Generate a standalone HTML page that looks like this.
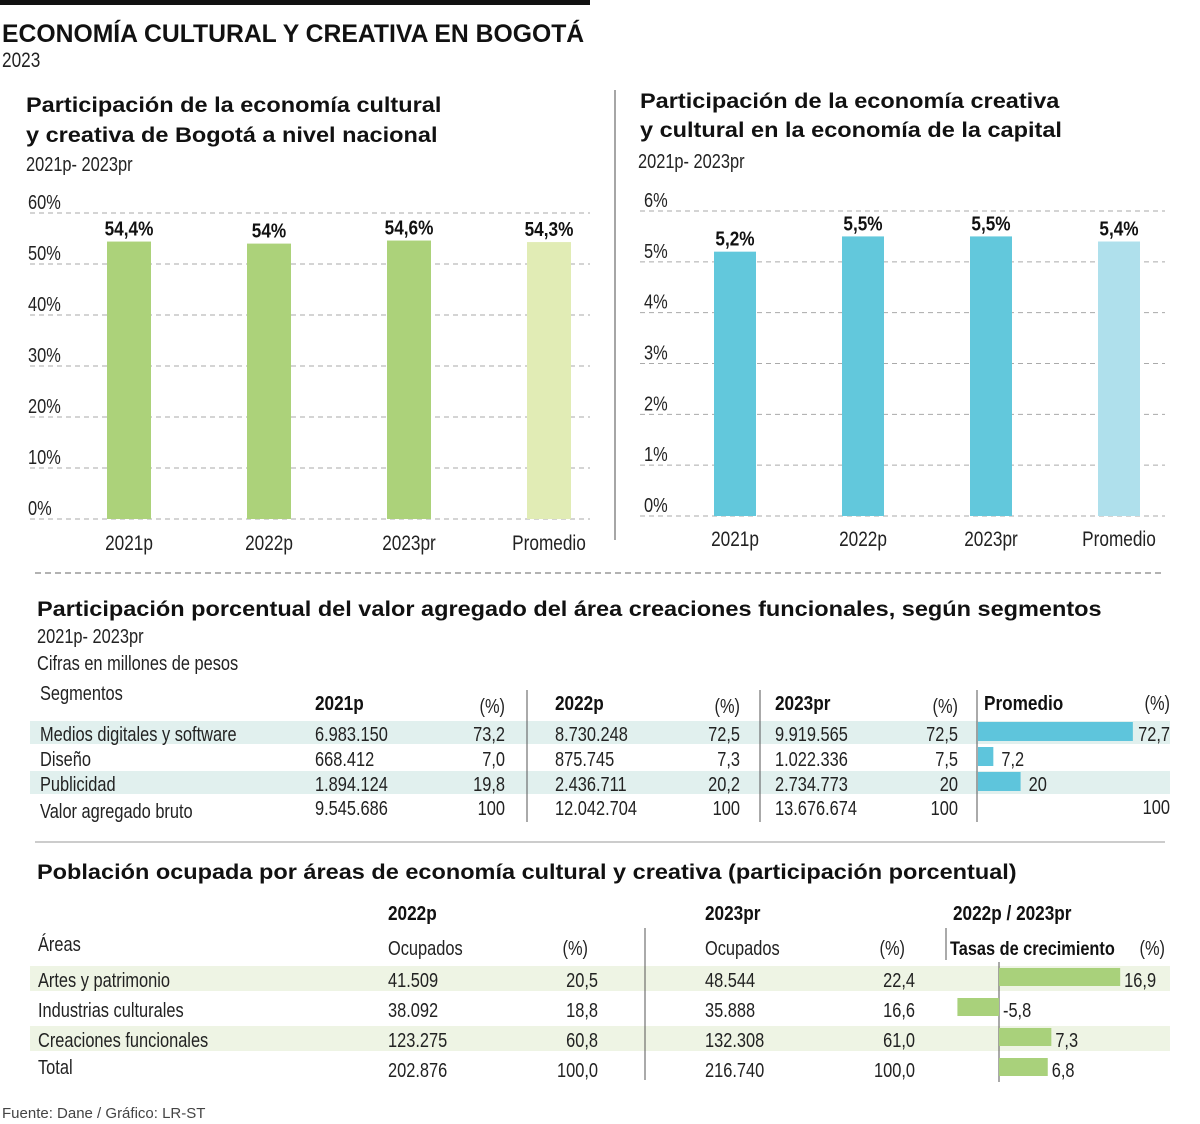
<!DOCTYPE html>
<html><head><meta charset="utf-8">
<style>
html,body{margin:0;padding:0;background:#fff;}
svg{display:block;font-family:"Liberation Sans",sans-serif;}
.b,.bt,.bm{font-family:"Liberation Sans",sans-serif;font-weight:bold;}
.n,.f{font-family:"Liberation Sans",sans-serif;fill:#222;}
</style></head>
<body>
<svg id="s" width="1200" height="1124" viewBox="0 0 1200 1124">
<rect x="0" y="0" width="590" height="5" fill="#111"/>
<text x="2" y="42" class="bm" font-size="25" fill="#111">ECONOMÍA CULTURAL Y CREATIVA EN BOGOTÁ</text>
<text x="2" y="67" class="n" font-size="21">2023</text>

<text x="26" y="112" class="bt" font-size="21" fill="#111">Participación de la economía cultural</text>
<text x="26" y="142" class="bt" font-size="21" fill="#111">y creativa de Bogotá a nivel nacional</text>
<text x="26" y="171" class="n" font-size="20">2021p- 2023pr</text>
<line x1="615" y1="90" x2="615" y2="540" stroke="#888" stroke-width="1.5"/>
<text x="640" y="108" class="bt" font-size="21" fill="#111">Participación de la economía creativa</text>
<text x="640" y="137" class="bt" font-size="21" fill="#111">y cultural en la economía de la capital</text>
<text x="638" y="168" class="n" font-size="20">2021p- 2023pr</text>

<line x1="35" y1="573" x2="1165" y2="573" stroke="#666" stroke-dasharray="6,4"/>
<text x="37" y="616" class="bt" font-size="21" fill="#111">Participación porcentual del valor agregado del área creaciones funcionales, según segmentos</text>
<text x="37" y="643" class="n" font-size="20">2021p- 2023pr</text>
<text x="37" y="670" class="n" font-size="20">Cifras en millones de pesos</text>
<line x1="35" y1="842" x2="1165" y2="842" stroke="#999" stroke-width="1"/>
<text x="37" y="879" class="bt" font-size="21" fill="#111">Población ocupada por áreas de economía cultural y creativa (participación porcentual)</text>
<text x="2" y="1118" class="f" font-size="15" style="fill:#444">Fuente: Dane / Gráfico: LR-ST</text>
<g id="dyn"></g>
</svg>
<script>
// Chart 1 data
const c1Categories = ["2021p","2022p","2023pr","Promedio"];
const c1Values = [54.4, 54.0, 54.6, 54.3];
const c1Labels = ["54,4%","54%","54,6%","54,3%"];
const c1Ticks = [0,10,20,30,40,50,60];
// Chart 2 data
const c2Categories = ["2021p","2022p","2023pr","Promedio"];
const c2Values = [5.2, 5.5, 5.5, 5.4];
const c2Labels = ["5,2%","5,5%","5,5%","5,4%"];
const c2Ticks = [0,1,2,3,4,5,6];
// Table 1 data
const t1Segments = ["Medios digitales y software","Diseño","Publicidad","Valor agregado bruto"];
const t1v2021 = ["6.983.150","668.412","1.894.124","9.545.686"];
const t1p2021 = ["73,2","7,0","19,8","100"];
const t1v2022 = ["8.730.248","875.745","2.436.711","12.042.704"];
const t1p2022 = ["72,5","7,3","20,2","100"];
const t1v2023 = ["9.919.565","1.022.336","2.734.773","13.676.674"];
const t1p2023 = ["72,5","7,5","20","100"];
const t1Avg = [72.7, 7.2, 20];
const t1AvgLabels = ["72,7","7,2","20","100"];
// Table 2 data
const t2Areas = ["Artes y patrimonio","Industrias culturales","Creaciones funcionales","Total"];
const t2o2022 = ["41.509","38.092","123.275","202.876"];
const t2p2022 = ["20,5","18,8","60,8","100,0"];
const t2o2023 = ["48.544","35.888","132.308","216.740"];
const t2p2023 = ["22,4","16,6","61,0","100,0"];
const t2Growth = [16.9, -5.8, 7.3, 6.8];
const t2GrowthLabels = ["16,9","-5,8","7,3","6,8"];

const NS="http://www.w3.org/2000/svg";
const g=document.getElementById('dyn');
function mk(tag,attrs){const e=document.createElementNS(NS,tag);for(const k in attrs)e.setAttribute(k,attrs[k]);g.appendChild(e);return e;}
function txt(x,y,s,size,anchor,bold){const e=mk('text',{x:x,y:y,'font-size':size,'text-anchor':anchor||'start',class:bold?'b':'n',fill:'#111'});e.textContent=s;return e;}

function barChart(cats,vals,labels,ticks,o){
  const y=v=>o.y0-(v/ticks[ticks.length-1])*(o.y0-o.yTop);
  const xc=i=>o.x0+i*o.step;
  ticks.forEach((t,i)=>{
    const l=mk('line',{x1:o.gx0,x2:o.gx1,y1:y(t),y2:y(t),stroke:'#aaa','stroke-dasharray':'5,4'});
    
    
    const tx=txt(o.lx,y(t)-4,t+'%',20,'start',false);
    
    
  });
  cats.forEach((c,i)=>{
    const cx=xc(i);
    const r=mk('rect',{x:cx-o.w/2,y:y(vals[i]),width:o.w,height:o.y0-y(vals[i]),fill:i==3?o.c2:o.c1});
    
    
    const v=txt(cx,y(vals[i])-6,labels[i],20,'middle',true);
    
    
    const xl=txt(cx,o.xly,c,21,'middle',false);
    
    
  });
}
barChart(c1Categories,c1Values,c1Labels,c1Ticks,{y0:519,yTop:213,gx0:30,gx1:590,lx:28,x0:129,step:140,w:44,c1:'#acd27a',c2:'#e1ecb5',xly:550});
barChart(c2Categories,c2Values,c2Labels,c2Ticks,{y0:516,yTop:211,gx0:640,gx1:1165,lx:644,x0:735,step:128,w:42,c1:'#62c8dc',c2:'#afe0ec',xly:546});

// Table 1
[0,2].forEach(i=>{const r=mk('rect',{x:30,y:721+i*25,width:1140,height:23,fill:'#e1f0ee'});
  
  
  g.insertBefore(r,g.firstChild);});
let h=txt(40,700,'Segmentos',20,'start',false);


[[315,'2021p',505],[555,'2022p',740],[775,'2023pr',958]].forEach(a=>{
  const e=txt(a[0],710,a[1],20,'start',true);
  
  
  const p=txt(a[2],713,'(%)',20,'end',false);
  
  
});
h=txt(984,710,'Promedio',20,'start',true);


h=txt(1170,710,'(%)',20,'end',false);


[527,760,977].forEach(x=>{const l=mk('line',{x1:x,x2:x,y1:690,y2:822,stroke:'#555'});
  
  });
const cols=[[t1v2021,315,'start'],[t1p2021,505,'end'],[t1v2022,555,'start'],[t1p2022,740,'end'],[t1v2023,775,'start'],[t1p2023,958,'end']];
t1Segments.forEach((s,i)=>{
  const yb=741+i*25+(i==3?2:0);
  const e=txt(40,yb,s,20,'start',false);
  
  
  cols.forEach(c=>{const v=txt(c[1],yb-(i==3?3:0),c[0][i],20,c[2],false);
    
    });
  if(i<3){
    const w=t1Avg[i]*2.13;
    const r=mk('rect',{x:978,y:yb-19,width:w,height:19,fill:'#5ec5dc'});
    
    
    const lx=i==0?1170:978+w+8;
    const l=txt(lx,yb,t1AvgLabels[i],20,i==0?'end':'start',false);
    
    
  } else {
    const l=txt(1170,yb-4,t1AvgLabels[i],20,'end',false);
    
    
  }
});

// Table 2
[0,2].forEach(i=>{const r=mk('rect',{x:30,y:966+i*30,width:1140,height:25,fill:'#eef4e4'});
  
  
  g.insertBefore(r,g.firstChild);});
[[388,'2022p'],[705,'2023pr'],[953,'2022p / 2023pr']].forEach(a=>{
  const e=txt(a[0],920,a[1],20,'start',true);
  
  });
h=txt(38,951,'Áreas',20,'start',false);


[[388,598],[705,915]].forEach(a=>{
  const e=txt(a[0],955,'Ocupados',20,'start',false);
  
  
  const p=txt(a[1]-10,955,'(%)',20,'end',false);
  
  });
h=txt(950,955,'Tasas de crecimiento',19,'start',true);


h=txt(1165,955,'(%)',20,'end',false);


[[645,928,1080],[946,928,960],[999,962,1082]].forEach(a=>{
  const l=mk('line',{x1:a[0],x2:a[0],y1:a[1],y2:a[2],stroke:'#555'});
  
  });
const gx=v=>999+v*7.17;
const cols2=[[t2o2022,388,'start'],[t2p2022,598,'end'],[t2o2023,705,'start'],[t2p2023,915,'end']];
t2Areas.forEach((a,i)=>{
  const yb=987+i*30;
  const e=txt(38,yb-(i==3?3:0),a,20,'start',false);
  
  
  cols2.forEach(c=>{const v=txt(c[1],yb,c[0][i],20,c[2],false);
    
    });
  const v=t2Growth[i];
  const x0=Math.min(gx(0),gx(v)),w=Math.abs(gx(v)-gx(0));
  const r=mk('rect',{x:x0,y:yb-19,width:w,height:18,fill:'#a9d17b'});
  
  
  const l=txt(v>=0?gx(v)+4:gx(0)+4,yb,t2GrowthLabels[i],20,'start',false);
  
  
});

// horizontal scaling to mimic condensed / semibold typefaces
const scales={n:0.82,b:0.86,bt:1.12,bm:0.99,f:1};
document.querySelectorAll('#s text').forEach(t=>{
  const k=scales[t.getAttribute('class')]||1;
  const x=parseFloat(t.getAttribute('x'));
  t.setAttribute('transform','translate('+x+',0) scale('+k+',1) translate('+(-x)+',0)');
});
</script>
</body></html>
